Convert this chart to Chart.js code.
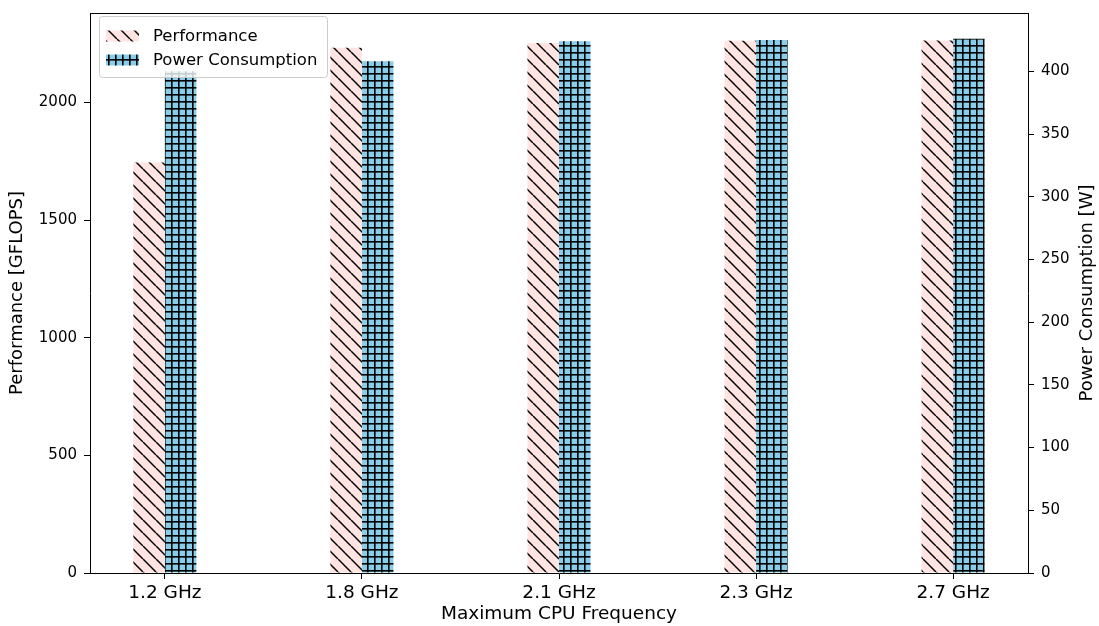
<!DOCTYPE html>
<html>
<head>
<meta charset="utf-8">
<script src="https://cdn.jsdelivr.net/npm/chart.js@4"></script>
<style>
  body { margin: 0; background: #fff; }
  #wrap { width: 1099px; height: 626px; }
</style>
</head>
<body>
<div id="wrap"><canvas id="myChart" width="1099" height="626"></canvas></div>
<script>
const categories = ['1.2 GHz', '1.8 GHz', '2.1 GHz', '2.3 GHz', '2.7 GHz'];
const performance = [1745, 2232, 2252, 2262, 2263];
const power = [400, 408, 424, 425, 426];
const perfTicks = [0, 500, 1000, 1500, 2000];
const powerTicks = [0, 50, 100, 150, 200, 250, 300, 350, 400];

// hatch patterns like matplotlib '\\' and '+'
function diagHatch(bg) {
    const s = 13;
    const c = document.createElement('canvas');
    c.width = s; c.height = s;
    const g = c.getContext('2d');
    g.fillStyle = bg;
    g.fillRect(0, 0, s, s);
    g.strokeStyle = '#000';
    g.lineWidth = 1.5;
    for (const x0 of [-s, 0, s]) {
        g.beginPath();
        g.moveTo(x0, 0);
        g.lineTo(x0 + s, s);
        g.stroke();
    }
    return g.createPattern(c, 'repeat');
}

function gridHatch(bg) {
    const s = 7;
    const c = document.createElement('canvas');
    c.width = s; c.height = s;
    const g = c.getContext('2d');
    g.fillStyle = bg;
    g.fillRect(0, 0, s, s);
    g.fillStyle = '#000';
    g.fillRect(3, 0, 1.6, s);
    g.fillRect(0, 3, s, 1.6);
    return g.createPattern(c, 'repeat');
}

const perfFill = diagHatch('#ffe4e1');
const powerFill = gridHatch('#87ceeb');

Chart.defaults.font.family = 'DejaVu Sans';
Chart.defaults.color = '#000';

const frameAndLegend = {
    id: 'frameAndLegend',
    afterDraw(chart) {
        const ctx = chart.ctx;
        const a = chart.chartArea;
        ctx.save();
        // top spine
        ctx.strokeStyle = '#000';
        ctx.lineWidth = 1;
        ctx.beginPath();
        ctx.moveTo(a.left, Math.round(a.top) + 0.5);
        ctx.lineTo(a.right, Math.round(a.top) + 0.5);
        ctx.stroke();

        // right axis title, reads bottom to top like matplotlib
        ctx.font = '18px "DejaVu Sans"';
        ctx.fillStyle = '#000';
        ctx.textAlign = 'center';
        ctx.textBaseline = 'middle';
        ctx.translate(1087, (a.top + a.bottom) / 2);
        ctx.rotate(-Math.PI / 2);
        ctx.fillText('Power Consumption [W]', 0, 0);
        ctx.restore();

        // legend box, upper left
        ctx.save();
        ctx.fillStyle = 'rgba(255,255,255,0.8)';
        ctx.strokeStyle = '#cccccc';
        ctx.lineWidth = 1;
        ctx.beginPath();
        ctx.roundRect(99.5, 16.5, 228, 61, 3);
        ctx.fill();
        ctx.stroke();

        const items = [
            { label: 'Performance', fill: perfFill, y: 36 },
            { label: 'Power Consumption', fill: powerFill, y: 60 }
        ];
        ctx.font = '16.5px "DejaVu Sans"';
        ctx.textAlign = 'left';
        ctx.textBaseline = 'middle';
        items.forEach(it => {
            ctx.fillStyle = it.fill;
            ctx.fillRect(106, it.y - 5.5, 33, 11);
            ctx.fillStyle = '#000';
            ctx.fillText(it.label, 153, it.y + 1);
        });
        ctx.restore();
    }
};

const data = {
    datasets: [{
        label: 'Performance',
        data: performance.map((v, i) => ({ x: i, y: v })),
        backgroundColor: perfFill,
        borderWidth: 0,
        yAxisID: 'y',
        categoryPercentage: 0.32,
        barPercentage: 1.0
    }, {
        label: 'Power Consumption',
        data: power.map((v, i) => ({ x: i, y: v })),
        backgroundColor: powerFill,
        borderWidth: 0,
        yAxisID: 'y1',
        categoryPercentage: 0.32,
        barPercentage: 1.0
    }]
};

const config = {
    type: 'bar',
    data: data,
    options: {
        responsive: false,
        animation: false,
        devicePixelRatio: 1,
        layout: { padding: { top: 13, left: 0, right: 0, bottom: 0 } },
        plugins: {
            legend: { display: false },
            tooltip: { enabled: false }
        },
        scales: {
            x: {
                type: 'linear',
                min: -0.38,
                max: 4.38,
                offset: false,
                afterBuildTicks: s => { s.ticks = categories.map((_, i) => ({ value: i })); },
                afterFit: s => { s.height = 53; s.paddingLeft = 0; s.paddingRight = 0; },
                ticks: {
                    font: { size: 18.5 },
                    padding: 3,
                    maxRotation: 0,
                    callback: v => categories[v]
                },
                grid: { drawOnChartArea: false, offset: false, tickLength: 6, tickColor: '#000' },
                border: { color: '#000', width: 1 },
                title: {
                    display: true,
                    text: 'Maximum CPU Frequency',
                    font: { size: 18.5 },
                    padding: { top: 0, bottom: 1 }
                }
            },
            y: {
                position: 'left',
                min: 0,
                max: 2380,
                afterBuildTicks: s => { s.ticks = perfTicks.map(v => ({ value: v })); },
                afterFit: s => { s.width = 90; s.paddingTop = 0; s.paddingBottom = 0; },
                ticks: { font: { size: 15 }, padding: 7, callback: v => String(v) },
                grid: { drawOnChartArea: false, tickLength: 6, tickColor: '#000' },
                border: { color: '#000', width: 1 },
                title: {
                    display: true,
                    text: 'Performance [GFLOPS]',
                    font: { size: 18 },
                    padding: { top: 7, bottom: 0 }
                }
            },
            y1: {
                position: 'right',
                min: 0,
                max: 446.5,
                afterBuildTicks: s => { s.ticks = powerTicks.map(v => ({ value: v })); },
                afterFit: s => { s.width = 71; s.paddingTop = 0; s.paddingBottom = 0; },
                ticks: { font: { size: 15 }, padding: 7, callback: v => String(v) },
                grid: { drawOnChartArea: false, tickLength: 6, tickColor: '#000' },
                border: { color: '#000', width: 1 }
            }
        }
    },
    plugins: [frameAndLegend]
};

new Chart(document.getElementById('myChart'), config);
</script>
</body>
</html>
